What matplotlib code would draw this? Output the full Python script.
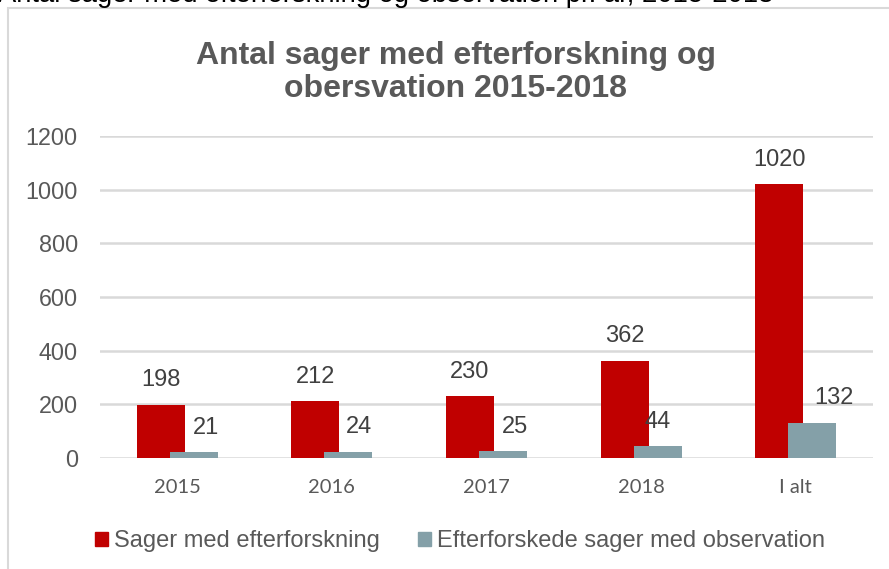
import matplotlib.pyplot as plt
from matplotlib.patches import Patch, Rectangle
import numpy as np

# Data
kategorier = ["2015", "2016", "2017", "2018", "I alt"]
sager_efterforskning = [198, 212, 230, 362, 1020]
sager_observation = [21, 24, 25, 44, 132]
serie_navne = ["Sager med efterforskning", "Efterforskede sager med observation"]

rod = "#C00000"
graablaa = "#84A0A8"
tekst_graa = "#595959"
gitter = "#D9D9D9"

W, H = 889, 569
fig = plt.figure(figsize=(W / 100, H / 100), dpi=100)

# Ramme om diagrammet (skaaret af i hoejre og nederste kant)
fig.patches.append(Rectangle((8 / W, -0.1), 1.2, (H - 8) / H + 0.1,
                             transform=fig.transFigure, fill=False,
                             edgecolor=gitter, lw=1.5))

# Overskrift over rammen, delvist afskaaret
fig.text(773 / W, 1 - 1.5 / H, "Antal sager med efterforskning og observation pr. år, 2015-2018",
         ha="right", va="baseline", fontsize=19.7, family="Liberation Sans", color="black")

# Diagramtitel (baseline gaelder sidste linje)
fig.text(456 / W, 1 - 97 / H, "Antal sager med efterforskning og\nobersvation 2015-2018",
         ha="center", va="baseline", fontsize=23, fontweight="bold",
         family="Liberation Sans", color=tekst_graa, linespacing=1.15)

ax = fig.add_axes([100 / W, 111 / H, 773 / W, 322 / H])
x = np.arange(len(kategorier))
bredde = 0.31
forskyd = 0.107

ax.bar(x - forskyd, sager_efterforskning, bredde, color=rod, zorder=2)
ax.bar(x + forskyd, sager_observation, bredde, color=graablaa, zorder=3)

ax.set_xlim(-0.5, len(kategorier) - 0.5)
ax.set_ylim(0, 1200)
ax.set_yticks(np.arange(0, 1201, 200))
ax.set_xticks(x)
ax.set_xticklabels(kategorier, family="Lato", fontsize=14.5, color=tekst_graa)
for lbl in ax.get_yticklabels():
    lbl.set_family("Liberation Sans")
    lbl.set_fontsize(16.8)
    lbl.set_color(tekst_graa)
ax.tick_params(axis="y", length=0, pad=16)
ax.tick_params(axis="x", length=0, pad=15)
ax.grid(axis="y", color=gitter, lw=1.8, zorder=0)
ax.set_axisbelow(True)
for s in ax.spines.values():
    s.set_visible(False)

# Datalabels
lbl_dx_obs = [12, 10.5, 12, 0, 22]  # px
for i in range(len(kategorier)):
    ax.annotate(str(sager_efterforskning[i]), (x[i] - forskyd, sager_efterforskning[i]),
                xytext=(0, 17.6), textcoords="offset points", ha="center", va="center",
                fontsize=17, family="Liberation Sans", color="#404040")
    ax.annotate(str(sager_observation[i]), (x[i] + forskyd, sager_observation[i]),
                xytext=(lbl_dx_obs[i] * 0.72, 17.6), textcoords="offset points",
                ha="center", va="center", fontsize=17, family="Liberation Sans",
                color="#404040", zorder=5)

# Forklaring
handles = [Patch(color=rod), Patch(color=graablaa)]
fig.legend(handles, serie_navne, loc="center", bbox_to_anchor=(460 / W, 1 - 541 / H),
           ncol=2, frameon=False, prop={"family": "Liberation Sans", "size": 17},
           labelcolor=tekst_graa, handlelength=0.55, handleheight=0.55,
           handletextpad=0.25, columnspacing=1.65, borderpad=0, borderaxespad=0)

fig.savefig("out.png", dpi=100)
